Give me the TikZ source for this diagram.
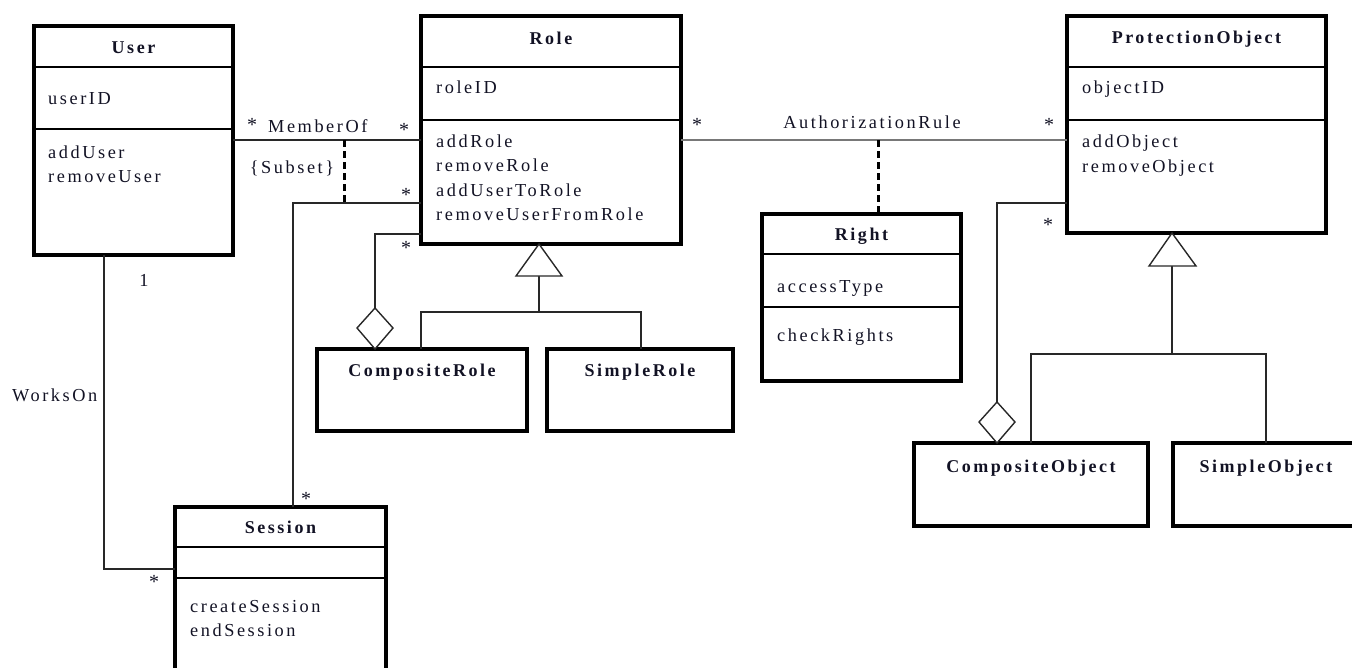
\documentclass[tikz,border=0pt]{standalone}
\usepackage{fontspec}
\setmainfont{Liberation Serif}[LetterSpace=14]
\definecolor{ink}{RGB}{18,18,36}
\definecolor{wire}{RGB}{40,40,40}
\definecolor{softwire}{RGB}{120,120,120}
\begin{document}
\begin{tikzpicture}[x=1pt,y=-1pt,
  box/.style={draw=black, line width=3.2pt, rectangle, outer sep=0pt, inner sep=0pt,
              anchor=north west},
  divider/.style={draw=black, line width=1.5pt},
  title/.style={font=\fontsize{18}{20}\selectfont\bfseries, anchor=base, inner sep=0pt, text=ink},
  item/.style={font=\fontsize{18.3}{20}\selectfont, anchor=base west, inner sep=0pt, text=ink},
  lbl/.style={font=\fontsize{18.3}{20}\selectfont, anchor=base, inner sep=0pt, text=ink},
  mult/.style={font=\fontsize{20}{20}\selectfont, anchor=base, inner sep=0pt, text=ink},
  wireline/.style={draw=wire, line width=1.4pt},
  linkdash/.style={draw=black, line width=3pt, dash pattern=on 7pt off 4pt},
  hollow/.style={draw=wire, line width=1.4pt, fill=white}
]
\useasboundingbox (0,0) rectangle (1352,667);
\clip (0,0) rectangle (1352,667);

% ---------- class boxes ----------
\node[box, minimum width=199, minimum height=229] (user) at (34,26) {};
\node[box, minimum width=260, minimum height=228] (role) at (421,16) {};
\node[box, minimum width=259, minimum height=217] (po) at (1067,16) {};
\node[box, minimum width=199, minimum height=167] (right) at (762,214) {};
\node[box, minimum width=211, minimum height=200] (session) at (175,507) {};
\node[box, minimum width=210, minimum height=82] (crole) at (317,349) {};
\node[box, minimum width=186, minimum height=82] (srole) at (547,349) {};
\node[box, minimum width=234, minimum height=83] (cobj) at (914,443) {};
\node[box, minimum width=190, minimum height=83] (sobj) at (1173,443) {};

% compartment dividers
\draw[divider] (user.west |- 0,67) -- (user.east |- 0,67);
\draw[divider] (user.west |- 0,129) -- (user.east |- 0,129);
\draw[divider] (role.west |- 0,67) -- (role.east |- 0,67);
\draw[divider] (role.west |- 0,120) -- (role.east |- 0,120);
\draw[divider] (po.west |- 0,67) -- (po.east |- 0,67);
\draw[divider] (po.west |- 0,120) -- (po.east |- 0,120);
\draw[divider] (right.west |- 0,254) -- (right.east |- 0,254);
\draw[divider] (right.west |- 0,307) -- (right.east |- 0,307);
\draw[divider] (session.west |- 0,547) -- (session.east |- 0,547);
\draw[divider] (session.west |- 0,578) -- (session.east |- 0,578);

% ---------- class texts ----------
\node[title] (userT) at (133.5,53) {User};
\node[item] (userA) at (48,104) {userID};
\node[item] (userM1) at (48,158) {addUser};
\node[item] (userM2) at (48,182) {removeUser};

\node[title] (roleT) at (551,44) {Role};
\node[item] (roleA) at (436,93) {roleID};
\node[item] (roleM1) at (436,147) {addRole};
\node[item] (roleM2) at (436,171.5) {removeRole};
\node[item] (roleM3) at (436,196) {addUserToRole};
\node[item] (roleM4) at (436,220.5) {removeUserFromRole};

\node[title] (poT) at (1196.5,43) {ProtectionObject};
\node[item] (poA) at (1082,93) {objectID};
\node[item] (poM1) at (1082,147) {addObject};
\node[item] (poM2) at (1082,172) {removeObject};

\node[title] (rightT) at (861.5,240) {Right};
\node[item] (rightA) at (777,292) {accessType};
\node[item] (rightM) at (777,341) {checkRights};

\node[title] (sessionT) at (280.5,533) {Session};
\node[item] (sessionM1) at (190,612) {createSession};
\node[item] (sessionM2) at (190,636) {endSession};

\node[title] (croleT) at (422,376) {CompositeRole};
\node[title] (sroleT) at (640,376) {SimpleRole};
\node[title] (cobjT) at (1031,472) {CompositeObject};
\node[title] (sobjT) at (1266,472) {SimpleObject};

% ---------- associations ----------
% MemberOf
\draw[wireline] (user.east |- 0,140) -- (role.west |- 0,140);
\coordinate (moMid) at (344,140);
\coordinate (roleSes) at (role.west |- 0,203);
\coordinate (sesBend) at (293,203);
\draw[linkdash] (moMid) -- (moMid |- roleSes);
% Role -- Session
\draw[wireline] (roleSes) -- (sesBend) -- (sesBend |- session.north);
% WorksOn
\coordinate (woBend) at (104,569);
\draw[wireline] (woBend |- user.south) -- (woBend) -- (session.west |- woBend);
% AuthorizationRule
\draw[draw=softwire, line width=1.5pt] (role.east |- 0,140) -- (po.west |- 0,140);
\coordinate (arMid) at (878,140);
\draw[linkdash] (arMid) -- (arMid |- right.north);

% Role aggregation (CompositeRole)
\coordinate (raBend) at (375,234);
\coordinate (raTop) at (375,308);
\draw[wireline] (role.west |- raBend) -- (raBend) -- (raTop);
\draw[hollow] (raTop) -- (393,328) -- (raTop |- crole.north) -- (357,328) -- cycle;

% Role generalization
\coordinate (rgBase) at (539,276);
\coordinate (rgBar) at (539,312);
\coordinate (rgLeft) at (421,312);
\coordinate (rgRight) at (641,312);
\draw[wireline] (rgBase) -- (rgBar);
\draw[hollow] (rgBase |- role.south) -- (562,276) -- (516,276) -- cycle;
\draw[wireline] (rgLeft |- crole.north) -- (rgLeft) -- (rgRight) -- (rgRight |- srole.north);

% ProtectionObject aggregation (CompositeObject)
\coordinate (paBend) at (997,203);
\coordinate (paTop) at (997,402);
\draw[wireline] (po.west |- paBend) -- (paBend) -- (paTop);
\draw[hollow] (paTop) -- (1015,422) -- (paTop |- cobj.north) -- (979,422) -- cycle;

% ProtectionObject generalization
\coordinate (pgBase) at (1172,266);
\coordinate (pgBar) at (1172,354);
\coordinate (pgLeft) at (1031,354);
\coordinate (pgRight) at (1266,354);
\draw[wireline] (pgBase) -- (pgBar);
\draw[hollow] (pgBase |- po.south) -- (1196,266) -- (1149,266) -- cycle;
\draw[wireline] (pgLeft |- cobj.north) -- (pgLeft) -- (pgRight) -- (pgRight |- sobj.north);

% ---------- association labels ----------
\node[lbl, anchor=base west] (moL) at (268,132) {MemberOf};
\node[lbl] (subsetL) at (292,173) {\{Subset\}};
\node[lbl] (arL) at (872,128) {AuthorizationRule};
\node[lbl, anchor=base west] (woL) at (12,401) {WorksOn};
\node[lbl] (m1) at (144,286) {1};

\node[mult] (s1) at (252,131) {*};
\node[mult] (s2) at (404,136) {*};
\node[mult] (s3) at (406,201) {*};
\node[mult] (s4) at (406,254) {*};
\node[mult] (s5) at (306,505) {*};
\node[mult] (s6) at (154,588) {*};
\node[mult] (s7) at (697,131) {*};
\node[mult] (s8) at (1049,131) {*};
\node[mult] (s9) at (1048,231) {*};
\end{tikzpicture}
\end{document}
